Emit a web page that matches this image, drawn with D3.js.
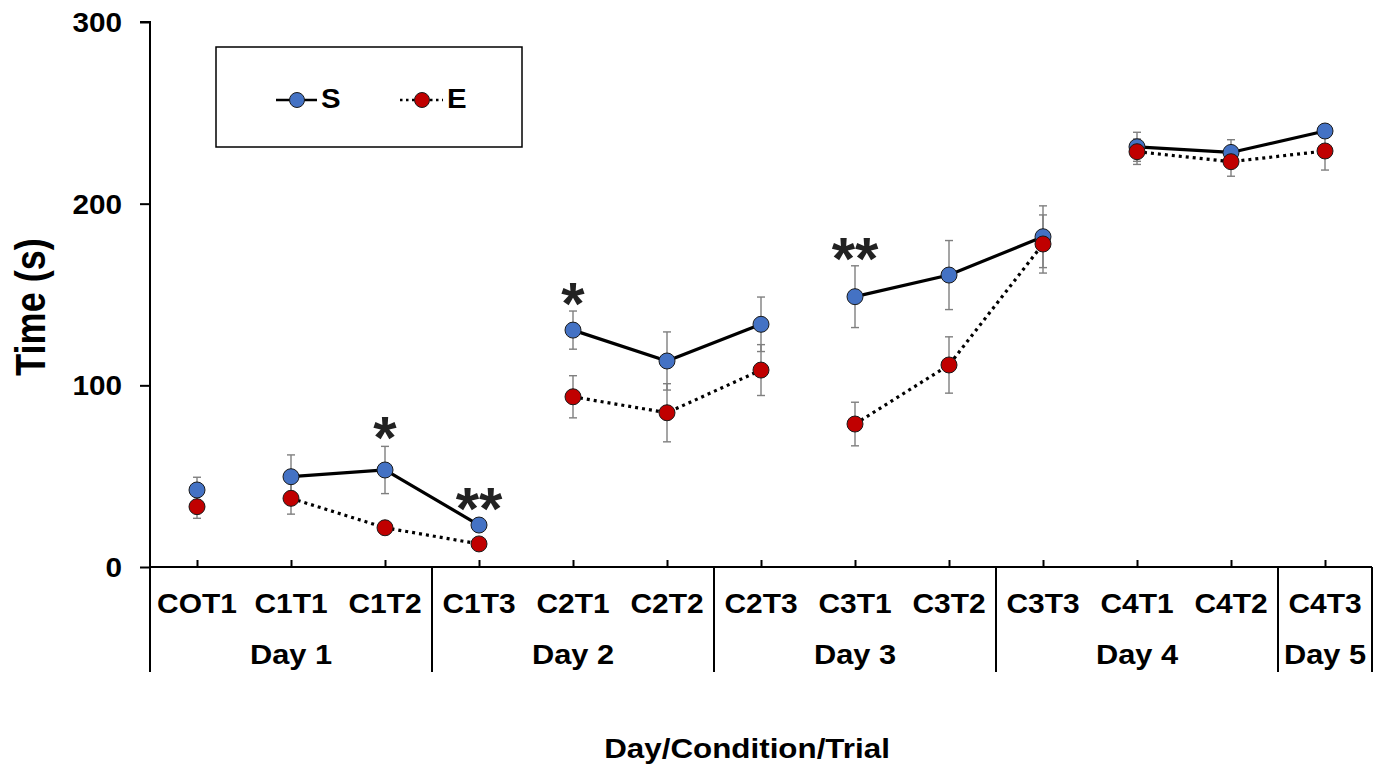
<!DOCTYPE html>
<html>
<head>
<meta charset="utf-8">
<script src="https://cdn.jsdelivr.net/npm/d3@7"></script>
<style>
  html, body { margin: 0; padding: 0; background: #fff; }
  svg { display: block; }
  text { font-family: "Liberation Sans", Arial, sans-serif; font-weight: bold; fill: #000; }
</style>
</head>
<body>
<svg id="chart" width="1391" height="774"></svg>
<script>
// ---------- data ----------
const categories = ["COT1","C1T1","C1T2","C1T3","C2T1","C2T2","C2T3","C3T1","C3T2","C3T3","C4T1","C4T2","C4T3"];
const conditions = ["C0","C1","C1","C1","C2","C2","C2","C3","C3","C3","C4","C4","C4"];
const sMean = [42.4, 49.7, 53.4, 23.1, 130.4, 113.4, 133.6, 148.8, 160.7, 181.8, 231.3, 228.2, 240.0];
const sErr  = [7, 12, 13, 3, 10.5, 16, 15, 17, 19, 17, 8, 7, 2];
const eMean = [33.2, 37.8, 21.6, 12.7, 93.7, 84.9, 108.4, 78.7, 111.2, 177.8, 228.6, 223.1, 229.0];
const eErr  = [6.4, 8.7, 3, 2, 11.6, 16, 14, 12, 15.5, 16, 7, 8, 10.5];
const days = ["Day 1","Day 2","Day 3","Day 4","Day 5"];
const dayStart = [0, 3, 6, 9, 12];
const dayEnd   = [2, 5, 8, 11, 12];
const yTicks = [0, 100, 200, 300];
const annCats  = ["C1T2","C1T3","C2T1","C3T1"];
const annTexts = ["*","**","*","**"];
const annY     = [79, 40, 153, 178];
const seriesNames = ["S","E"];

// ---------- layout ----------
const svg = d3.select("#chart");
const x0 = 150, x1 = 1372, yTop = 22, yBot = 567;
const x = d3.scalePoint().domain(categories).range([x0, x1]).padding(0.5);
const step = x.step();
const y = d3.scaleLinear().domain([0, 300]).range([yBot, yTop]);
const BLUE = "#4472C4", RED = "#C00000", ERR = "#7F7F7F";

function txt(g, px, py, s, size, anchor, sx) {
  return g.append("text")
    .attr("transform", `translate(${px},${py}) scale(${sx},1)`)
    .attr("text-anchor", anchor)
    .style("font-size", size + "px")
    .text(s);
}

// ---------- y axis ----------
const yAxis = svg.append("g").attr("transform", `translate(${x0},0)`)
  .call(d3.axisLeft(y).tickValues(yTicks).tickSize(10).tickFormat(""));
yAxis.select(".domain").attr("d", `M-10,${y(300)}H0V${yBot}`).attr("stroke", "#000").attr("stroke-width", 2);
yAxis.selectAll(".tick line").attr("stroke", "#000").attr("stroke-width", 2);
const yl = svg.append("g");
yTicks.forEach(t => txt(yl, 122, y(t) + 10, String(t), 27, "end", 1.1));

svg.append("text")
  .attr("transform", "translate(45,307) rotate(-90) scale(0.86,1)")
  .attr("text-anchor", "middle").style("font-size", "42px").text("Time (s)");

// ---------- x axis ----------
const xAxis = svg.append("g").attr("transform", `translate(0,${yBot})`)
  .call(d3.axisTop(x).tickSize(7).tickFormat(""));
xAxis.select(".domain").attr("d", `M${x0},0H${x1}`).attr("stroke", "#000").attr("stroke-width", 2);
xAxis.selectAll(".tick line").attr("stroke", "#000").attr("stroke-width", 2);

const xl = svg.append("g");
categories.forEach(c => txt(xl, x(c), 613, c, 28, "middle", 1.07));

// day dividers and labels
const dividers = [x0];
dayEnd.forEach(i => dividers.push(x(categories[i]) + step / 2));
svg.append("g").selectAll("line").data(dividers).join("line")
  .attr("x1", d => d).attr("x2", d => d).attr("y1", yBot).attr("y2", 672)
  .attr("stroke", "#000").attr("stroke-width", 2);
days.forEach((d, i) => {
  const cx = (x(categories[dayStart[i]]) + x(categories[dayEnd[i]])) / 2;
  txt(xl, cx, 664, d, 28, "middle", 1.1);
});
txt(svg, 747, 758, "Day/Condition/Trial", 28, "middle", 1.12);

// ---------- error bars ----------
const errG = svg.append("g").attr("stroke", ERR).attr("stroke-width", 1.4);
[[sMean, sErr], [eMean, eErr]].forEach(([m, e]) => {
  categories.forEach((c, i) => {
    const cx = x(c), lo = y(m[i] - e[i]), hi = y(m[i] + e[i]);
    errG.append("line").attr("x1", cx).attr("x2", cx).attr("y1", lo).attr("y2", hi);
    errG.append("line").attr("x1", cx - 4).attr("x2", cx + 4).attr("y1", lo).attr("y2", lo);
    errG.append("line").attr("x1", cx - 4).attr("x2", cx + 4).attr("y1", hi).attr("y2", hi);
  });
});

// ---------- lines ----------
const line = d3.line().x(d => x(d.c)).y(d => y(d.v));
function segments(m) {
  const groups = d3.groups(categories.map((c, i) => ({c, v: m[i], k: conditions[i]})), d => d.k);
  return groups.map(g => g[1]).filter(g => g.length > 1);
}
svg.append("g").selectAll("path").data(segments(sMean)).join("path")
  .attr("d", line).attr("fill", "none").attr("stroke", "#000").attr("stroke-width", 3.2);
svg.append("g").selectAll("path").data(segments(eMean)).join("path")
  .attr("d", line).attr("fill", "none").attr("stroke", "#000").attr("stroke-width", 3.2)
  .attr("stroke-dasharray", "3,4");

// ---------- markers ----------
svg.append("g").selectAll("circle").data(sMean).join("circle")
  .attr("cx", (d, i) => x(categories[i])).attr("cy", d => y(d)).attr("r", 8)
  .attr("fill", BLUE).attr("stroke", "#1a1a1a").attr("stroke-width", 1);
svg.append("g").selectAll("circle").data(eMean).join("circle")
  .attr("cx", (d, i) => x(categories[i])).attr("cy", d => y(d)).attr("r", 8)
  .attr("fill", RED).attr("stroke", "#1a1a1a").attr("stroke-width", 1);

// ---------- significance marks ----------
const ann = svg.append("g");
annCats.forEach((c, i) => {
  ann.append("text").attr("x", x(c)).attr("y", y(annY[i]) + 35)
    .attr("text-anchor", "middle").style("font-size", "60px").style("fill", "#222")
    .text(annTexts[i]);
});

// ---------- legend ----------
const lg = svg.append("g");
lg.append("rect").attr("x", 216).attr("y", 47).attr("width", 306).attr("height", 100)
  .attr("fill", "#fff").attr("stroke", "#000").attr("stroke-width", 1.5);
lg.append("line").attr("x1", 276).attr("x2", 317).attr("y1", 100).attr("y2", 100)
  .attr("stroke", "#000").attr("stroke-width", 2.5);
lg.append("circle").attr("cx", 297).attr("cy", 100).attr("r", 7.5)
  .attr("fill", BLUE).attr("stroke", "#1a1a1a").attr("stroke-width", 1);
txt(lg, 321, 108, seriesNames[0], 28, "start", 1.05);
lg.append("line").attr("x1", 400).attr("x2", 443).attr("y1", 100).attr("y2", 100)
  .attr("stroke", "#000").attr("stroke-width", 2.5).attr("stroke-dasharray", "2.5,3.5");
lg.append("circle").attr("cx", 422).attr("cy", 100).attr("r", 7.5)
  .attr("fill", RED).attr("stroke", "#1a1a1a").attr("stroke-width", 1);
txt(lg, 447, 108, seriesNames[1], 28, "start", 1.05);
</script>
</body>
</html>
